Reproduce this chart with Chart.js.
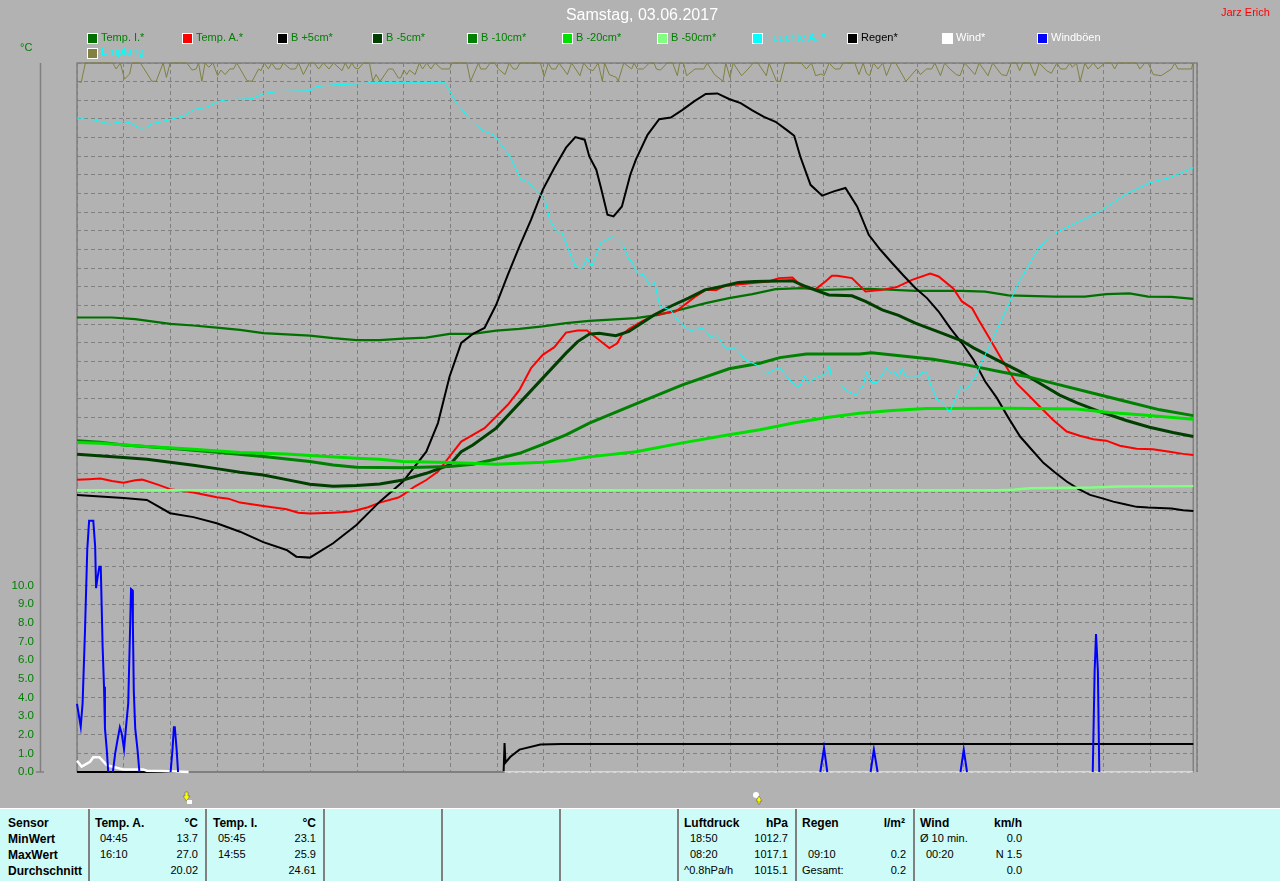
<!DOCTYPE html>
<html>
<head>
<meta charset="utf-8">
<title>Samstag, 03.06.2017</title>
<script src="https://cdn.jsdelivr.net/npm/chart.js@4"></script>
<style>
  html, body { margin: 0; padding: 0; background: #b2b2b2; width: 1280px; height: 881px; overflow: hidden; }
  body { font-family: "Liberation Sans", Arial, sans-serif; font-size: 11px; }
  #myChart { position: absolute; left: 0; top: 0; }
  #title { position: absolute; left: 442px; width: 400px; top: 6px; text-align: center; font-size: 16px; color: #fff; }
  #author { position: absolute; left: 1221px; top: 6px; color: #f00; font-size: 11px; }
  #unit { position: absolute; left: 20px; top: 41px; color: #008000; font-size: 11px; }
  .swatch { position: absolute; width: 9px; height: 9px; border: 1px solid #fff; }
  .legendText { position: absolute; white-space: nowrap; font-size: 11px; }
  #panel { position: absolute; left: 0; top: 808px; width: 1280px; height: 73px; background: #ccfbf8; border-top: 1px solid #fff; box-sizing: border-box; }
  .sep { position: absolute; top: 0; width: 2px; height: 73px; background: #808080; }
  .cell { position: absolute; white-space: nowrap; color: #000; font-size: 11px; }
  .head { font-weight: bold; font-size: 12px; }
  .icon { position: absolute; top: 791px; }
</style>
</head>
<body>
<canvas id="myChart" width="1280" height="808"></canvas>
<div id="title">Samstag, 03.06.2017</div>
<div id="author">Jarz Erich</div>
<div id="unit">°C</div>
<div id="legend"></div>
<svg class="icon" style="left:181px" width="12" height="14"><polygon points="4,1 7,1 7,5 9,5 5.5,10 2,5 4,5" fill="#ffff00" stroke="#555" stroke-width="0.5"/><rect x="6" y="9" width="5" height="4" fill="#fff"/></svg>
<svg class="icon" style="left:752px" width="12" height="14"><circle cx="4" cy="4" r="3" fill="#fff"/><polygon points="7,5 10,10 8,10 8,13 6,13 6,10 4,10" fill="#ffff00" stroke="#555" stroke-width="0.5"/></svg>
<div id="panel"></div>

<script>
// hours along the day and values in the unit of the left axis
const tempI_t = [0, 0.75, 1.25, 2, 2.5, 3, 3.5, 4, 5, 5.5, 6, 6.5, 7, 7.5, 8, 8.5, 9, 9.5, 10, 10.5, 11, 12, 12.48, 13, 13.5, 14, 14.5, 15, 15.57, 16, 17, 18, 19, 19.5, 20, 21, 21.64, 22.1, 22.6, 23, 23.5, 23.97];
const tempI_v = [24.36, 24.36, 24.27, 24.02, 23.93, 23.82, 23.70, 23.52, 23.39, 23.25, 23.15, 23.15, 23.23, 23.28, 23.48, 23.48, 23.66, 23.75, 23.88, 24.06, 24.18, 24.33, 24.5, 24.81, 25.13, 25.40, 25.61, 25.88, 25.93, 25.84, 25.9, 25.79, 25.79, 25.75, 25.55, 25.48, 25.48, 25.61, 25.65, 25.48, 25.46, 25.36];

const tempA_t = [0, 0.25, 0.5, 0.75, 1, 1.25, 1.4, 1.75, 2, 2.5, 3, 3.25, 3.5, 4, 4.5, 4.75, 5, 5.5, 5.9, 6.25, 6.5, 6.9, 7, 7.25, 7.5, 7.75, 8, 8.25, 8.5, 8.75, 9, 9.25, 9.5, 9.75, 10, 10.25, 10.5, 10.75, 10.95, 11.15, 11.25, 11.43, 11.6, 11.7, 11.85, 12.13, 12.4, 12.85, 13, 13.26, 13.5, 13.73, 13.9, 14.35, 14.85, 15.07, 15.36, 15.57, 15.86, 16.07, 16.21, 16.32, 16.64, 16.93, 17.29, 17.6, 17.93, 18.32, 18.5, 18.82, 19, 19.22, 19.36, 19.57, 19.86, 20.17, 20.39, 20.67, 20.96, 21.25, 21.53, 21.82, 22.1, 22.39, 22.75, 23.1, 23.46, 23.75, 23.97];
const tempA_v = [15.66, 15.69, 15.73, 15.60, 15.51, 15.64, 15.67, 15.39, 15.16, 14.98, 14.73, 14.65, 14.44, 14.26, 14.08, 13.90, 13.85, 13.90, 13.96, 14.19, 14.44, 14.71, 14.85, 15.30, 15.65, 16.10, 16.91, 17.71, 18.07, 18.43, 19.05, 19.68, 20.48, 21.65, 22.36, 22.77, 23.55, 23.66, 23.66, 23.27, 23.07, 22.72, 22.98, 23.43, 23.74, 24.15, 24.50, 24.68, 24.95, 25.45, 25.84, 25.84, 26.06, 26.17, 26.29, 26.47, 26.50, 26.02, 25.88, 26.29, 26.6, 26.6, 26.47, 25.75, 25.84, 25.99, 26.38, 26.72, 26.56, 25.9, 25.22, 24.86, 24.23, 23.34, 22.09, 20.84, 20.30, 19.59, 18.87, 18.25, 18.02, 17.84, 17.76, 17.49, 17.33, 17.30, 17.17, 17.05, 16.99];

const bPlus5_t = [0, 1, 1.5, 2, 2.5, 3, 3.5, 4, 4.5, 4.71, 5, 5.5, 6, 6.5, 7, 7.5, 7.75, 8, 8.25, 8.5, 8.75, 9, 9.25, 9.5, 9.75, 10, 10.25, 10.5, 10.7, 10.9, 11, 11.15, 11.25, 11.39, 11.52, 11.7, 11.88, 12, 12.25, 12.5, 12.75, 13, 13.25, 13.5, 13.75, 14, 14.25, 14.5, 14.75, 15, 15.25, 15.4, 15.53, 15.75, 16, 16.25, 16.5, 16.75, 17, 17.25, 17.5, 17.75, 18, 18.25, 18.5, 18.75, 19, 19.25, 19.5, 19.75, 20, 20.25, 20.5, 20.75, 21, 21.25, 21.5, 21.75, 22, 22.25, 22.5, 22.75, 23, 23.5, 23.75, 23.97];
const bPlus5_v = [14.85, 14.68, 14.58, 13.87, 13.66, 13.33, 12.88, 12.32, 11.90, 11.54, 11.49, 12.26, 13.24, 14.49, 15.57, 17.17, 18.70, 21.20, 23.0, 23.48, 23.80, 25.04, 26.65, 28.17, 29.6, 31.2, 32.39, 33.46, 34.03, 33.89, 32.99, 32.28, 31.31, 29.87, 29.78, 30.31, 32.01, 32.82, 34.15, 34.99, 35.08, 35.49, 35.94, 36.34, 36.37, 36.07, 35.85, 35.46, 35.11, 34.85, 34.39, 34.10, 32.99, 31.47, 30.89, 31.12, 31.30, 30.31, 28.79, 27.99, 27.28, 26.6, 25.94, 25.40, 24.68, 23.79, 22.99, 22.09, 20.93, 20.05, 18.98, 17.98, 17.27, 16.57, 16.05, 15.57, 15.17, 14.85, 14.68, 14.49, 14.35, 14.21, 14.17, 14.12, 14.03, 13.99];

const bMinus5_t = [0, 1, 1.5, 2, 2.5, 3, 3.5, 4, 4.5, 5, 5.5, 6, 6.5, 7, 7.5, 8, 8.25, 8.5, 9, 9.5, 10, 10.5, 10.75, 11, 11.21, 11.57, 11.85, 12.13, 12.4, 12.77, 13.13, 13.48, 13.84, 14.2, 14.55, 15.36, 15.65, 16.14, 16.64, 16.93, 17.29, 17.64, 18, 18.57, 19, 19.25, 19.75, 20.24, 20.67, 21.1, 21.46, 21.96, 22.53, 23.03, 23.53, 23.97];
const bMinus5_v = [17.03, 16.85, 16.76, 16.60, 16.44, 16.26, 16.07, 15.92, 15.67, 15.42, 15.32, 15.35, 15.44, 15.65, 16.01, 16.46, 17.17, 17.53, 18.43, 19.77, 21.11, 22.45, 23.07, 23.47, 23.52, 23.38, 23.61, 24.06, 24.51, 24.99, 25.40, 25.84, 26.02, 26.24, 26.29, 26.33, 26.02, 25.57, 25.52, 25.22, 24.77, 24.47, 24.06, 23.52, 23.11, 22.73, 22.09, 21.47, 20.84, 20.2, 19.8, 19.32, 18.84, 18.48, 18.2, 17.98];

const bMinus10_t = [0, 0.5, 1, 2, 3, 4, 5, 5.5, 6, 7, 8, 8.5, 9, 9.5, 10, 10.5, 11, 12, 13, 14, 14.66, 15.09, 15.66, 16.8, 17.06, 17.67, 18.38, 19.1, 19.88, 20.39, 21.1, 21.82, 22.53, 23.25, 23.97];
const bMinus10_v = [17.75, 17.68, 17.53, 17.35, 17.14, 16.91, 16.64, 16.46, 16.33, 16.31, 16.37, 16.50, 16.78, 17.08, 17.56, 18.07, 18.70, 19.73, 20.75, 21.61, 21.91, 22.21, 22.4, 22.41, 22.47, 22.31, 22.12, 21.82, 21.43, 21.2, 20.75, 20.3, 19.86, 19.41, 19.1];

const bMinus20_t = [0, 0.5, 1.5, 2.5, 3.5, 4.5, 5, 6, 6.5, 7, 8, 9, 10, 10.5, 11, 12, 13, 14, 14.66, 15.38, 16.1, 16.8, 17.5, 18.23, 20, 21.46, 22.17, 22.9, 23.97];
const bMinus20_v = [17.66, 17.62, 17.44, 17.30, 17.12, 17.05, 16.96, 16.82, 16.76, 16.64, 16.59, 16.50, 16.60, 16.69, 16.89, 17.16, 17.64, 18.07, 18.34, 18.7, 19.0, 19.23, 19.37, 19.48, 19.5, 19.45, 19.27, 19.14, 18.91];

const bMinus50_t = [0, 19.8, 20.1, 20.46, 21.8, 22.35, 23.97];
const bMinus50_v = [15.10, 15.10, 15.13, 15.21, 15.25, 15.30, 15.32];

const feuchte_t = [0, 0.35, 0.7, 1, 1.15, 1.35, 1.5, 1.6, 1.9, 2.3, 2.5, 2.8, 3, 3.2, 3.75, 4, 4.3, 5, 5.15, 5.5, 6.1, 6.3, 7.9, 8.15, 8.45, 8.7, 8.95, 9.3, 9.55, 9.65, 9.8, 10.05, 10.15, 10.3, 10.4, 10.7, 10.85, 10.95, 11.05, 11.15, 11.25, 11.52, 11.74, 11.85, 11.9, 12.03, 12.17, 12.3, 12.4, 12.52, 12.74, 12.95, 13.17, 13.45, 13.6, 13.74, 13.92, 14.14, 14.35, 14.66, 14.8, 15.09, 15.24, 15.45, 15.52, 15.63, 15.7, 15.85, 16.1, 16.15, 16.2, 16.38, 16.56, 16.72, 16.88, 16.95, 17.06, 17.17, 17.39, 17.5, 17.57, 17.64, 17.71, 17.8, 18.04, 18.18, 18.25, 18.33, 18.47, 18.58, 18.74, 18.97, 19.06, 19.3, 19.4, 19.7, 20.05, 20.23, 20.65, 21, 21.37, 21.96, 22.5, 23.03, 23.46, 23.97];
const feuchte_v = [35.01, 34.96, 34.73, 34.87, 34.78, 34.51, 34.55, 34.74, 34.9, 35.17, 35.5, 35.64, 35.91, 36.03, 36.08, 36.35, 36.47, 36.51, 36.74, 36.83, 36.89, 36.94, 36.94, 35.85, 34.96, 34.39, 34.15, 32.99, 31.65, 31.77, 31.30, 30.67, 29.6, 28.94, 28.97, 27.09, 27.0, 27.55, 27.09, 27.72, 28.38, 28.7, 28.17, 27.45, 27.41, 26.74, 26.65, 26.06, 26.24, 24.95, 24.77, 24.06, 23.66, 23.79, 23.34, 23.41, 22.72, 22.72, 22.09, 21.73, 21.34, 21.7, 21.2, 20.63, 20.7, 21.23, 20.84, 21.11, 21.38, 21.78, 21.2, 20.75, 20.39, 20.21, 20.7, 21.47, 20.87, 20.87, 21.65, 21.34, 21.41, 21.11, 21.63, 21.16, 21.16, 21.47, 21.38, 20.75, 19.95, 19.8, 19.28, 20.65, 20.39, 21.2, 21.82, 23.43, 25.31, 26.29, 28.08, 28.88, 29.33, 30.04, 30.94, 31.58, 31.85, 32.39];

const regen_t = [0, 9.16, 9.18, 9.2, 9.3, 9.5, 9.95, 10.4, 23.97];
const regen_v = [0, 0, 1.55, 0.5, 0.8, 1.2, 1.47, 1.5, 1.5];

const wind_t = [0, 0.1, 0.28, 0.35, 0.48, 0.64, 0.99, 1.42, 1.5, 1.82, 2.4, 23.97];
const wind_v = [0.6, 0.29, 0.55, 0.79, 0.79, 0.37, 0.14, 0.14, 0.07, 0.05, 0, 0];

const boeen_t = [0, 0.08, 0.12, 0.17, 0.22, 0.26, 0.35, 0.39, 0.41, 0.44, 0.48, 0.51, 0.53, 0.55, 0.58, 0.6, 0.64, 0.67, 0.77, 0.82, 0.87, 0.92, 0.96, 1.01, 1.05, 1.1, 1.14, 1.16, 1.19, 1.2, 1.22, 1.25, 1.3, 1.34, 2.01, 2.05, 2.08, 2.1, 2.14, 2.17, 15.96, 16.04, 16.11, 17.04, 17.11, 17.19, 18.97, 19.04, 19.11, 21.81, 21.85, 21.88, 21.92, 21.95, 23.97];
const boeen_v = [3.65, 2.43, 3.68, 7.44, 11.9, 13.46, 13.46, 12.08, 9.85, 10.4, 11.0, 11.0, 8.87, 6.72, 4.57, 2.34, 1.18, 0, 0, 1.0, 1.72, 2.4, 2.07, 1.22, 2.34, 3.68, 7.7, 9.8, 9.74, 7.88, 4.3, 2.34, 1.18, 0, 0, 1.18, 2.4, 2.4, 1.18, 0, 0, 1.29, 0, 0, 1.2, 0, 0, 1.2, 0, 0, 5.4, 7.4, 5.4, 0, 0];

const emplang_t = [
  0, .09, .18, .77, .84, .93, 1.02, 1.13, 1.18, 1.36,
  1.61, 1.70, 1.85, 1.92, 2.0, 2.36, 2.47, 2.56, 2.61, 2.68,
  2.75, 2.83, 2.92, 3.02, 3.09, 3.18, 3.28, 3.36, 3.43, 3.65,
  3.76, 3.90, 3.95, 4.02, 4.11, 4.18, 4.27, 4.36, 4.43, 4.58,
  4.69, 4.76, 4.86, 4.99, 5.09, 5.19, 5.29, 5.41, 5.51, 5.69,
  5.76, 5.83, 5.90, 5.97, 6.04, 6.15, 6.28, 6.35, 6.42, 6.51,
  6.69, 6.78, 6.90, 6.95, 7.02, 7.08, 7.14, 7.26, 7.35, 7.42,
  7.51, 7.60, 7.69, 7.83, 8.0, 8.05, 8.37, 8.45, 8.62, 8.67,
  8.78, 8.87, 8.97, 9.05, 9.19, 9.28, 9.37, 9.44, 9.51, 9.95,
  10.03, 10.12, 10.19, 10.28, 10.35, 10.53, 10.62, 10.80, 10.88, 10.98,
  11.08, 11.19, 11.28, 11.33, 11.43, 11.58, 11.62, 11.74, 11.91, 11.96,
  12.03, 12.16, 12.29, 12.39, 12.44, 12.53, 12.67, 12.79, 12.89, 12.94,
  13.02, 13.09, 13.27, 13.46, 13.53, 13.69, 13.87, 13.93, 14.02, 14.09,
  14.27, 14.41, 14.52, 14.62, 14.80, 14.86, 15.02, 15.10, 15.20, 15.55,
  15.66, 15.77, 15.86, 15.98, 16.04, 16.15, 16.27, 16.38, 16.45, 16.70,
  16.79, 16.88, 16.95, 17.02, 17.10, 17.20, 17.30, 17.38, 17.49, 17.58,
  17.80, 18.03, 18.11, 18.24, 18.35, 18.42, 18.54, 18.63, 18.74, 18.88,
  18.96, 19.06, 19.28, 19.37, 19.56, 19.66, 19.85, 19.96, 20.06, 20.17,
  20.24, 20.31, 20.46, 20.57, 20.66, 20.82, 20.92, 21.04, 21.12, 21.23,
  21.32, 21.37, 21.46, 21.54, 21.64, 21.71, 21.82, 21.92, 22.07, 22.21,
  22.28, 22.35, 22.75, 22.82, 22.93, 23.0, 23.11, 23.28, 23.50, 23.57,
  23.64, 23.93, 23.96
];
const emplang_v = [
  37.02, 36.96, 38, 38, 37.68, 38, 37.14, 37.41, 38, 38,
  37.02, 37.02, 38, 37.23, 38, 38, 37.62, 37.68, 38, 37.02,
  38, 37.77, 38, 37.32, 37.62, 37.38, 37.68, 37.68, 38, 37.05,
  37.02, 37.68, 37.59, 38, 37.68, 38, 37.68, 37.68, 38, 37.68,
  37.68, 38, 37.38, 38, 38, 37.68, 38, 37.68, 38, 37.59,
  38, 37.68, 38, 37.73, 37.68, 38, 38, 37.02, 37.38, 37.02,
  37.68, 37.68, 37.2, 37.2, 37.62, 37.38, 37.62, 37.38, 38, 37.68,
  38, 37.68, 38, 37.68, 37.68, 38, 38, 37.02, 38, 37.68,
  37.68, 38, 38, 37.68, 37.38, 38, 37.68, 37.68, 38, 38,
  37.27, 38, 37.68, 37.68, 38, 37.38, 38, 37.32, 38, 37.68,
  37.59, 38, 37.02, 38, 37.38, 37.23, 37.02, 38, 37.68, 38,
  37.68, 37.68, 38, 38, 37.68, 37.62, 38, 38, 37.32, 38,
  38, 37.32, 37.68, 37.68, 38, 37.38, 37.02, 38, 37.23, 38,
  37.32, 37.68, 38, 38, 37.32, 38, 37.02, 37.02, 38, 38,
  37.68, 38, 37.32, 37.41, 37.32, 38, 37.68, 37.68, 38, 38,
  37.38, 38, 37.45, 37.32, 38, 37.68, 38, 37.32, 38, 38,
  37.02, 37.68, 37.38, 37.68, 37.68, 38, 37.32, 38, 37.68, 37.38,
  37.32, 38, 37.38, 38, 37.32, 38, 37.38, 37.32, 38, 38,
  37.59, 38, 38, 37.32, 38, 37.59, 37.45, 38, 37.68, 37.68,
  38, 37.77, 38, 37.02, 38, 37.68, 38, 37.68, 38, 38,
  37.68, 38, 38, 37.68, 38, 38, 37.38, 37.32, 37.68, 38,
  37.68, 37.68, 38
];

// legend entries in the order of the picture
const legendNames = ["Temp. I.*", "Temp. A.*", "B +5cm*", "B -5cm*", "B -10cm*", "B -20cm*", "B -50cm*", "Feuchte A. *", "Regen*", "Wind*", "Windböen", "Emplang"];
const legendColors = ["#007000", "#ff0000", "#000000", "#003f00", "#008000", "#00e000", "#80ff80", "#00ffff", "#000000", "#ffffff", "#0000ff", "#808040"];
const legendTextColors = ["#008000", "#008000", "#008000", "#008000", "#008000", "#008000", "#008000", "#00ffff", "#000000", "#ffffff", "#ffffff", "#00ffff"];

// the hours above were measured a little wider than the hour grid
const HOUR_FIX = 0.998;

function points(ts, vs) {
  return ts.map((t, i) => ({ x: t * HOUR_FIX, y: vs[i] }));
}

function serie(index, ts, vs, width, extra) {
  return Object.assign({
    label: legendNames[index],
    data: points(ts, vs),
    borderColor: legendColors[index],
    borderWidth: width,
    pointRadius: 0,
    tension: 0,
    clip: false,
    order: 12 - index
  }, extra || {});
}

const datasets = [
  serie(0, tempI_t, tempI_v, 2.2),
  serie(1, tempA_t, tempA_v, 2),
  serie(2, bPlus5_t, bPlus5_v, 2),
  serie(3, bMinus5_t, bMinus5_v, 3),
  serie(4, bMinus10_t, bMinus10_v, 3),
  serie(5, bMinus20_t, bMinus20_v, 3),
  serie(6, bMinus50_t, bMinus50_v, 2.4),
  serie(7, feuchte_t, feuchte_v, 1),
  serie(8, regen_t, regen_v, 2),
  serie(9, wind_t, wind_v, 2.5, {
    // zero wind shows as dots on the base line
    segment: { borderDash: ctx => ctx.p0.parsed.x > 9 ? [1, 3] : undefined, borderWidth: ctx => ctx.p0.parsed.x > 2 ? 1 : undefined }
  }),
  serie(10, boeen_t, boeen_v, 2, {
    // no blue line while the gusts stay at zero
    segment: { borderColor: ctx => (ctx.p0.parsed.y === 0 && ctx.p1.parsed.y === 0) ? "rgba(0,0,0,0)" : undefined }
  }),
  serie(11, emplang_t, emplang_v, 1)
];

// grey frame of the plot and the spare axis line on the far left
const framePlugin = {
  id: "frame",
  beforeDatasetsDraw(chart) {
    const a = chart.chartArea;
    const ctx = chart.ctx;
    const last = chart.scales.x.getPixelForValue(23.92);
    ctx.save();
    ctx.strokeStyle = "#808080";
    ctx.lineWidth = 1.5;
    ctx.beginPath();
    ctx.moveTo(a.left, a.bottom); ctx.lineTo(a.left, a.top); ctx.lineTo(a.right, a.top); ctx.lineTo(a.right, a.bottom);
    ctx.moveTo(last, a.top); ctx.lineTo(last, a.bottom);
    ctx.moveTo(40.5, a.top); ctx.lineTo(40.5, a.bottom);
    ctx.moveTo(36, a.bottom); ctx.lineTo(44, a.bottom);
    ctx.stroke();
    ctx.restore();
  }
};

const ctx = document.getElementById("myChart").getContext("2d");
new Chart(ctx, {
  type: "line",
  data: { datasets: datasets },
  plugins: [framePlugin],
  options: {
    responsive: false,
    animation: false,
    layout: { padding: { left: 0, top: 63, right: 83, bottom: 36 } },
    plugins: { legend: { display: false }, tooltip: { enabled: false } },
    scales: {
      x: {
        type: "linear",
        min: 0,
        max: 24,
        afterFit: s => { s.height = 0; },
        ticks: { display: false, stepSize: 1 },
        border: { display: false, dash: [4, 3] },
        grid: { color: "#808080", lineWidth: 1, drawTicks: false }
      },
      y: {
        min: 0,
        max: 38,
        afterFit: s => { s.width = 77; },
        ticks: {
          stepSize: 1,
          autoSkip: false,
          padding: 0,
          color: "#008000",
          font: { family: "'Liberation Sans'", size: 11.5 },
          callback: v => v <= 10 ? v.toFixed(1) : ""
        },
        border: { display: false, dash: [4, 3] },
        // invisible ticks keep the labels away from the plot
        grid: { color: "#808080", lineWidth: 1, drawTicks: true, tickLength: 43, tickColor: "rgba(0,0,0,0)" }
      }
    }
  }
});

// legend above the plot, 12 slots in two rows
const legend = document.getElementById("legend");
legendNames.forEach((name, i) => {
  const col = i % 11;
  const row = i >= 11 ? 1 : 0;
  const sw = document.createElement("div");
  sw.className = "swatch";
  sw.style.left = (87 + col * 95) + "px";
  sw.style.top = (33 + row * 15) + "px";
  sw.style.background = legendColors[i];
  legend.appendChild(sw);
  const tx = document.createElement("div");
  tx.className = "legendText";
  tx.textContent = name;
  tx.style.left = (101 + col * 95) + "px";
  tx.style.top = (31 + row * 14) + "px";
  tx.style.color = legendTextColors[i];
  legend.appendChild(tx);
});

// table under the plot
const panel = document.getElementById("panel");
const panelSeps = [88, 205, 323, 441, 559, 677, 795, 913];
panelSeps.forEach(x => {
  const d = document.createElement("div");
  d.className = "sep";
  d.style.left = x + "px";
  panel.appendChild(d);
});

const rowTops = [7, 23, 39, 55];

function cell(text, x, row, right, head) {
  const d = document.createElement("div");
  d.className = head ? "cell head" : "cell";
  d.textContent = text;
  d.style.top = rowTops[row] + "px";
  if (right) d.style.right = (1280 - x) + "px";
  else d.style.left = x + "px";
  panel.appendChild(d);
}

const sensorRows = ["Sensor", "MinWert", "MaxWert", "Durchschnitt"];
sensorRows.forEach((s, i) => cell(s, 8, i, false, true));

// [text, x, row, right aligned, header]
const panelCells = [
  ["Temp. A.", 95, 0, false, true], ["°C", 198, 0, true, true],
  ["04:45", 100, 1], ["13.7", 198, 1, true], ["16:10", 100, 2], ["27.0", 198, 2, true], ["20.02", 198, 3, true],
  ["Temp. I.", 213, 0, false, true], ["°C", 316, 0, true, true],
  ["05:45", 218, 1], ["23.1", 316, 1, true], ["14:55", 218, 2], ["25.9", 316, 2, true], ["24.61", 316, 3, true],
  ["Luftdruck", 684, 0, false, true], ["hPa", 788, 0, true, true],
  ["18:50", 690, 1], ["1012.7", 788, 1, true], ["08:20", 690, 2], ["1017.1", 788, 2, true], ["^0.8hPa/h", 684, 3], ["1015.1", 788, 3, true],
  ["Regen", 802, 0, false, true], ["l/m²", 905, 0, true, true],
  ["09:10", 808, 2], ["0.2", 906, 2, true], ["Gesamt:", 802, 3], ["0.2", 906, 3, true],
  ["Wind", 920, 0, false, true], ["km/h", 1022, 0, true, true],
  ["Ø 10 min.", 920, 1], ["0.0", 1022, 1, true], ["00:20", 926, 2], ["N 1.5", 1022, 2, true], ["0.0", 1022, 3, true]
];
panelCells.forEach(c => cell(c[0], c[1], c[2], c[3], c[4]));
</script>
</body>
</html>
